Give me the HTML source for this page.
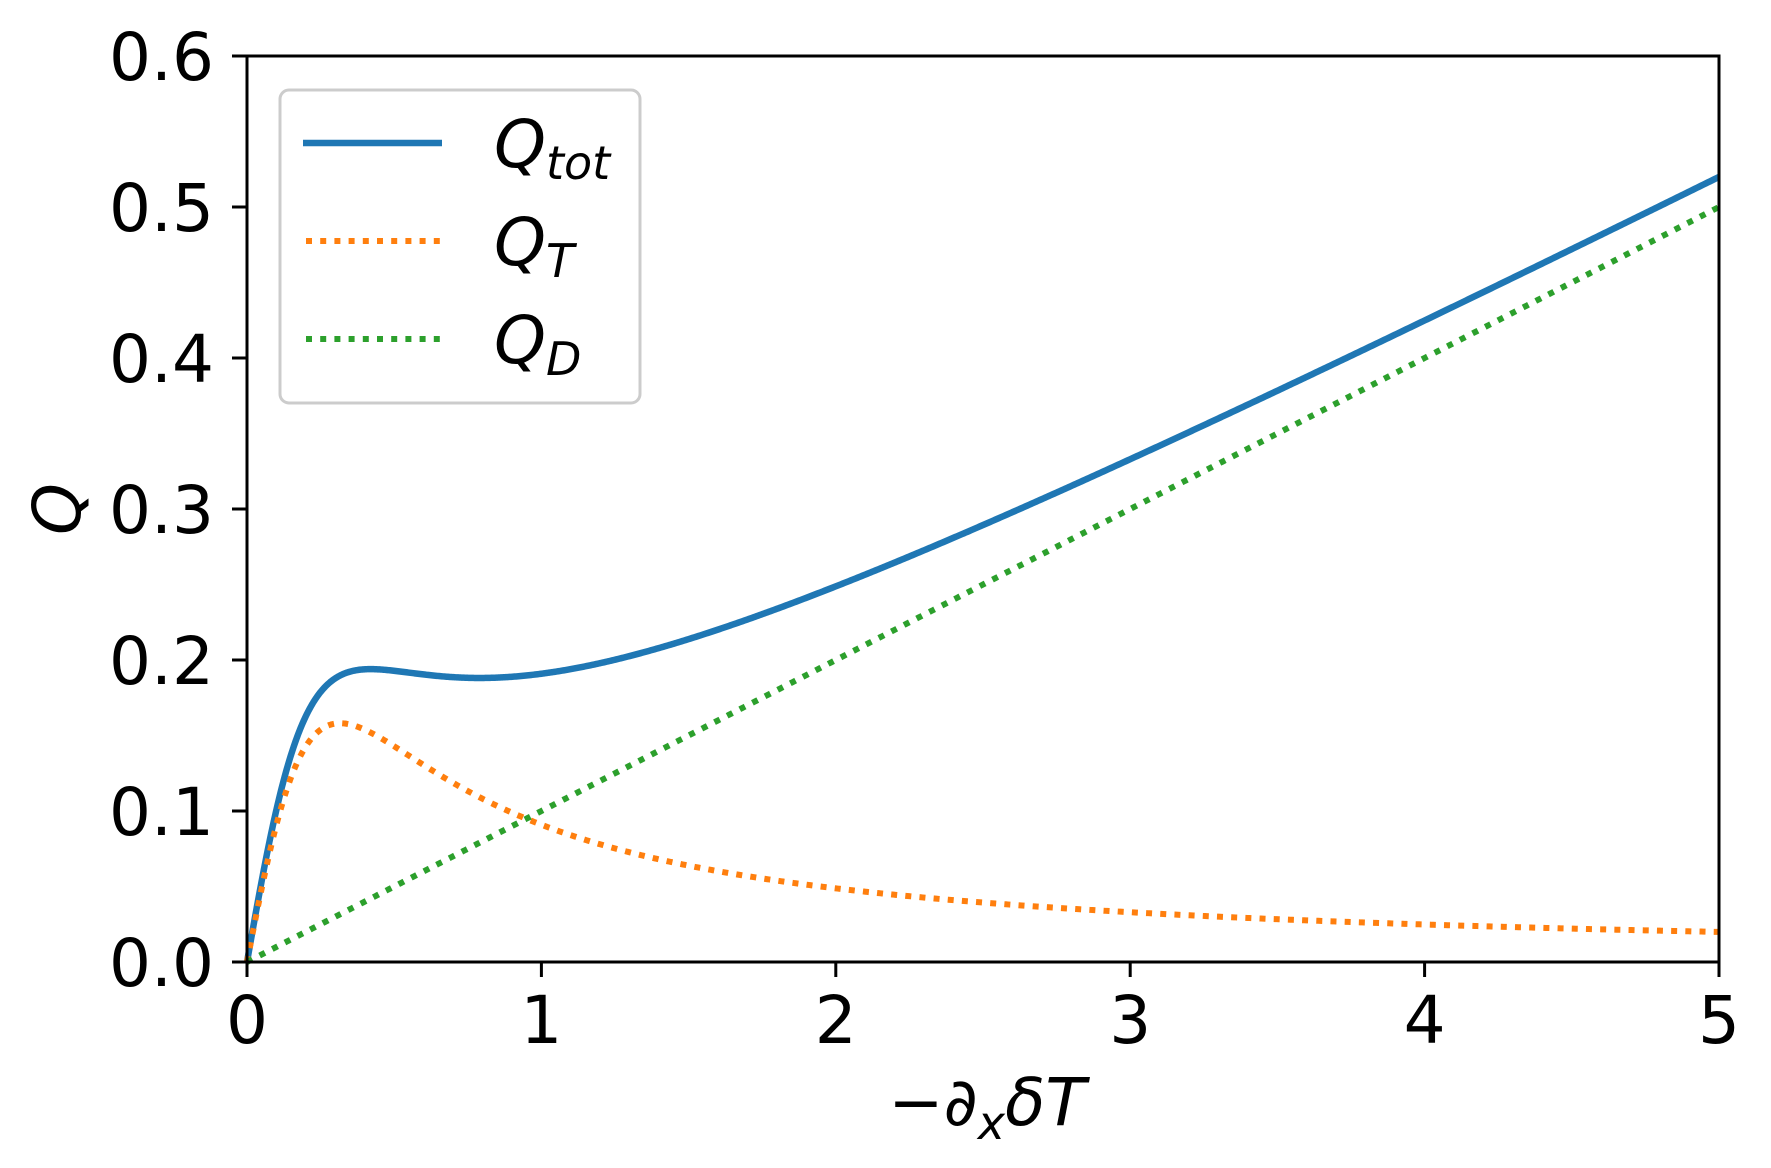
<!DOCTYPE html>
<html><head><meta charset="utf-8"><style>
html,body{margin:0;padding:0;background:#fff;}
svg{display:block;}
text{font-family:"DejaVu Sans","Liberation Sans",sans-serif;fill:#000;}
</style></head><body>
<svg id="s" width="1771" height="1168" viewBox="0 0 1771 1168" xmlns="http://www.w3.org/2000/svg">
<rect width="1771" height="1168" fill="#fff"/>
<g id="curves" fill="none" stroke-linejoin="round"></g>
<rect x="247" y="56" width="1472" height="906" fill="none" stroke="#000" stroke-width="3"/>
<g stroke="#000" stroke-width="3">
<line x1="247" y1="962" x2="247" y2="977"/><line x1="541.4" y1="962" x2="541.4" y2="977"/><line x1="835.8" y1="962" x2="835.8" y2="977"/><line x1="1130.2" y1="962" x2="1130.2" y2="977"/><line x1="1424.6" y1="962" x2="1424.6" y2="977"/><line x1="1719" y1="962" x2="1719" y2="977"/>
<line x1="232" y1="962" x2="247" y2="962"/><line x1="232" y1="811" x2="247" y2="811"/><line x1="232" y1="660" x2="247" y2="660"/><line x1="232" y1="509" x2="247" y2="509"/><line x1="232" y1="358" x2="247" y2="358"/><line x1="232" y1="207" x2="247" y2="207"/><line x1="232" y1="56" x2="247" y2="56"/>
</g>
<g font-size="66" text-anchor="middle">
<text x="247" y="1043">0</text><text x="541.4" y="1043">1</text><text x="835.8" y="1043">2</text><text x="1130.2" y="1043">3</text><text x="1424.6" y="1043">4</text><text x="1719" y="1043">5</text>
</g>
<g font-size="66" text-anchor="end">
<text x="214" y="986">0.0</text><text x="214" y="835">0.1</text><text x="214" y="684">0.2</text><text x="214" y="533">0.3</text><text x="214" y="382">0.4</text><text x="214" y="231">0.5</text><text x="214" y="80">0.6</text>
</g>
<text x="987" y="1125" font-size="66" text-anchor="middle" font-style="italic"><tspan font-style="normal">−</tspan>∂<tspan font-size="46" dy="14">x</tspan><tspan dy="-14">δT</tspan></text>
<text transform="translate(80,509) rotate(-90)" font-size="66" text-anchor="middle" font-style="italic">Q</text>
<rect x="280" y="90" width="360" height="313" rx="9" fill="#fff" fill-opacity="0.8" stroke="#ccc" stroke-width="3"/>
<line x1="303" y1="143" x2="442" y2="143" stroke="#1f77b4" stroke-width="6.5"/>
<line x1="306" y1="241" x2="442" y2="241" stroke="#ff7f0e" stroke-width="6" stroke-dasharray="6 8.2"/>
<line x1="306" y1="339" x2="442" y2="339" stroke="#2ca02c" stroke-width="6" stroke-dasharray="6 8.2"/>
<g font-size="66" font-style="italic">
<text x="494" y="167">Q<tspan font-size="46" dy="12">tot</tspan></text>
<text x="494" y="265">Q<tspan font-size="46" dy="12">T</tspan></text>
<text x="494" y="363">Q<tspan font-size="46" dy="12">D</tspan></text>
</g>
</svg>
<script>
(function(){
var X=function(x){return 247+x*294.4;},Y=function(y){return 962-y*1510;};
function path(f){var d="";for(var i=0;i<=1000;i++){var x=5*Math.pow(i/1000,1.5);d+=(i?"L":"M")+X(x).toFixed(2)+","+Y(f(x)).toFixed(2);}return d;}
var g=document.getElementById("curves"),ns="http://www.w3.org/2000/svg";
function add(f,c,dash,w){var p=document.createElementNS(ns,"path");p.setAttribute("d",path(f));p.setAttribute("stroke",c);p.setAttribute("stroke-width",w);if(dash)p.setAttribute("stroke-dasharray","6 8.2");g.appendChild(p);}
add(function(x){return x/(1+10*x*x)+0.1*x;},"#1f77b4",false,"6.5");
add(function(x){return x/(1+10*x*x);},"#ff7f0e",true,"6");
add(function(x){return 0.1*x;},"#2ca02c",true,"6");
})();
</script>
</body></html>
